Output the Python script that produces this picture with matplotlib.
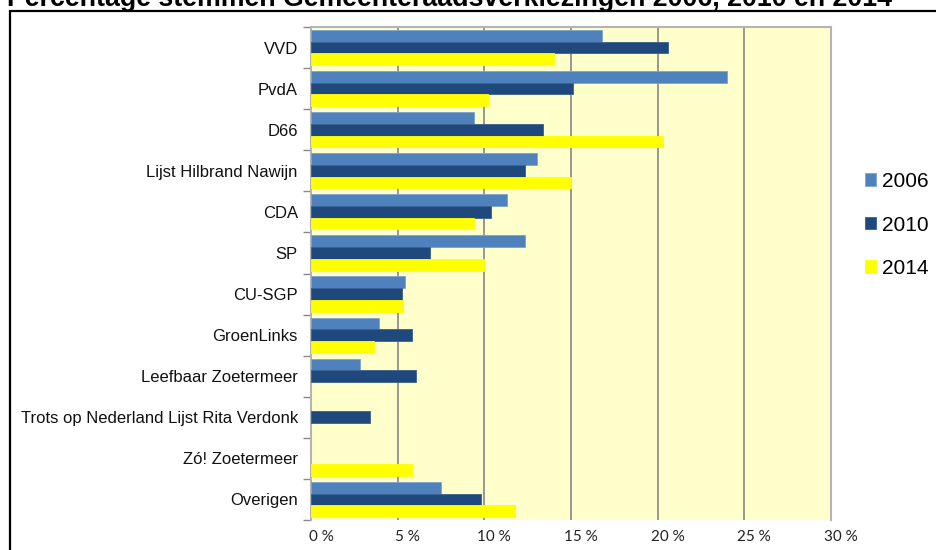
import numpy as np
import matplotlib.pyplot as plt
from matplotlib.patches import Rectangle
from matplotlib.transforms import ScaledTranslation

# Data (percentages)
parties = ['VVD', 'PvdA', 'D66', 'Lijst Hilbrand Nawijn', 'CDA', 'SP', 'CU-SGP',
           'GroenLinks', 'Leefbaar Zoetermeer', 'Trots op Nederland Lijst Rita Verdonk',
           'Zó! Zoetermeer', 'Overigen']
years = ['2006', '2010', '2014']
pct_2006 = [16.8, 24.0, 9.4, 13.05, 11.3, 12.35, 5.45, 3.95, 2.8, 0, 0, 7.5]
pct_2010 = [20.6, 15.1, 13.4, 12.35, 10.4, 6.85, 5.25, 5.8, 6.05, 3.4, 0, 9.8]
pct_2014 = [14.0, 10.2, 20.3, 15.0, 9.4, 10.0, 5.3, 3.65, 0, 0, 5.8, 11.75]
xticks = [0, 5, 10, 15, 20, 25, 30]

colors = ['#4F81BD', '#1F497D', '#FFFF00']
edges = ['#7FA3D0', '#3A6090', '#FFFF00']

fig = plt.figure(figsize=(9.36, 5.5), dpi=100)
W, H = 936, 550

# title, cut off at top of the picture
fig.text(7 / W, 1 - 6 / H, 'Percentage stemmen Gemeenteraadsverkiezingen 2006, 2010 en 2014',
         ha='left', va='baseline', fontsize=19.3, fontweight='bold',
         family='Liberation Sans', color='black')

# outer frame
fig.patches.append(Rectangle((10 / W, -0.1), 1.2, 1 - 11 / H + 0.1, transform=fig.transFigure,
                             fill=False, edgecolor='black', linewidth=1.6))

ax = fig.add_axes([311 / W, 1 - 520 / H, (831 - 311) / W, (520 - 27) / H])
ax.set_facecolor('#FFFFCC')

y = np.arange(len(parties))
h = 0.285
for i, (vals, lab) in enumerate(zip([pct_2006, pct_2010, pct_2014], years)):
    vals = np.array(vals)
    ax.barh(y + (i - 1) * h, vals, height=h, color=colors[i], edgecolor=edges[i],
            linewidth=np.where(vals > 0, 0.6, 0), label=lab, zorder=3)

ax.set_xlim(0, 30)
ax.set_ylim(len(parties) - 0.5, -0.5)
ax.set_xticks(xticks)
ax.set_xticklabels([f'{t} %' for t in xticks], family='Lato', fontsize=11, color='#222222')
ax.set_yticks(y)
ax.set_yticklabels(parties, family='Liberation Sans', fontsize=12, color='#111111')
ax.set_yticks(np.arange(len(parties) + 1) - 0.5, minor=True)
ax.tick_params(axis='y', which='major', length=0, pad=9.5)
ax.tick_params(axis='y', which='minor', length=6, color='#888888', width=1)
ax.tick_params(axis='x', length=0, pad=7.5)

# x labels sit a little right of their gridlines in the original
shift = ScaledTranslation(10 / 100, 0, fig.dpi_scale_trans)
for lbl in ax.get_xticklabels():
    lbl.set_transform(lbl.get_transform() + shift)

ax.grid(axis='x', color='#868686', linewidth=1.2, zorder=0)
for s in ['left', 'top', 'right']:
    ax.spines[s].set_color('#B4B4B4')
    ax.spines[s].set_linewidth(1.5)
ax.spines['bottom'].set_visible(False)

leg = fig.legend(loc='center left', bbox_to_anchor=(865 / W, 1 - 225 / H),
                 frameon=False, prop={'family': 'Liberation Sans', 'size': 15},
                 borderpad=0, borderaxespad=0,
                 handlelength=0.55, handleheight=0.55, handletextpad=0.25, labelspacing=1.17)

fig.savefig('out.png', dpi=100)
